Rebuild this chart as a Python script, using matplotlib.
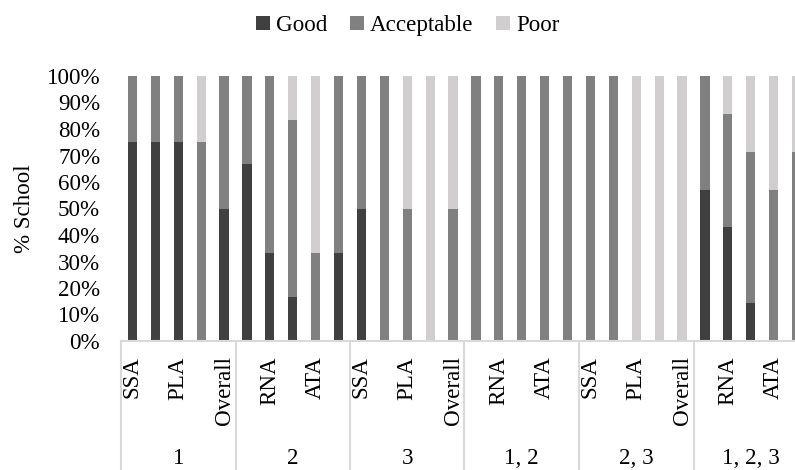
import numpy as np
import matplotlib
matplotlib.use('Agg')
import matplotlib.pyplot as plt

plt.rcParams['font.family'] = ['Liberation Serif', 'DejaVu Serif']

groups = ['1', '2', '3', '1, 2', '2, 3', '1, 2, 3']
measures = ['SSA', 'RNA', 'PLA', 'ATA', 'Overall']

# % of schools per bar, group by group (SSA, RNA, PLA, ATA, Overall)
good = [75, 75, 75, 0, 50,
        66.7, 33.3, 16.7, 0, 33.3,
        50, 0, 0, 0, 0,
        0, 0, 0, 0, 0,
        0, 0, 0, 0, 0,
        57.1, 42.9, 14.3, 0, 0]
acceptable = [25, 25, 25, 75, 50,
              33.3, 66.7, 66.6, 33.3, 66.7,
              50, 100, 50, 0, 50,
              100, 100, 100, 100, 100,
              100, 100, 0, 0, 0,
              42.9, 42.8, 57.1, 57.1, 71.4]
poor = [0, 0, 0, 25, 0,
        0, 0, 16.7, 66.7, 0,
        0, 0, 50, 100, 50,
        0, 0, 0, 0, 0,
        0, 0, 100, 100, 100,
        0, 14.3, 28.6, 42.9, 28.6]

series_names = ['Good', 'Acceptable', 'Poor']
colors = ['#404040', '#808080', '#d0cece']

n = len(groups) * len(measures)
x = np.arange(n)
good = np.array(good)
acceptable = np.array(acceptable)
poor = np.array(poor)

fig = plt.figure(figsize=(7.95, 4.70), dpi=100)
ax = fig.add_axes([121/795, 129/470, 687/795, 265/470])

fs = 16.6
w = 0.4
ax.bar(x, good, w, color=colors[0], label=series_names[0])
ax.bar(x, acceptable, w, bottom=good, color=colors[1], label=series_names[1])
ax.bar(x, poor, w, bottom=good + acceptable, color=colors[2], label=series_names[2])

ax.set_xlim(-0.5, n - 0.5)
ax.set_ylim(0, 100)
ax.set_yticks(np.arange(0, 101, 10))
ax.set_yticklabels([f'{v}%' for v in range(0, 101, 10)], fontsize=fs)
ax.tick_params(axis='y', length=0, pad=15)

labels = [measures[i % len(measures)] for i in range(n)]
ax.set_xticks(x[::2])
ax.set_xticklabels(labels[::2], rotation=90, fontsize=fs, va='top')
ax.tick_params(axis='x', length=0, pad=11)

for s in ['top', 'right', 'left']:
    ax.spines[s].set_visible(False)
ax.spines['bottom'].set_color('#d9d9d9')
ax.spines['bottom'].set_linewidth(1.5)

ax.set_ylabel('% School', fontsize=fs, labelpad=8)

tr = ax.get_xaxis_transform()
for g in range(len(groups) + 1):
    xb = g * len(measures) - 0.5
    ax.plot([xb, xb], [0, -0.5], color='#d9d9d9', lw=1.5, transform=tr, clip_on=False)
for g, name in enumerate(groups):
    xc = g * len(measures) + (len(measures) - 1) / 2
    ax.text(xc, -0.445, name, transform=tr, ha='center', va='center', fontsize=fs)

fig.legend(loc='upper center', bbox_to_anchor=(0.513, 1.012), ncol=3, frameon=False,
           fontsize=fs, handlelength=0.6, handleheight=0.6, handletextpad=0.25,
           columnspacing=1.0)

fig.savefig('out.png', dpi=100)
